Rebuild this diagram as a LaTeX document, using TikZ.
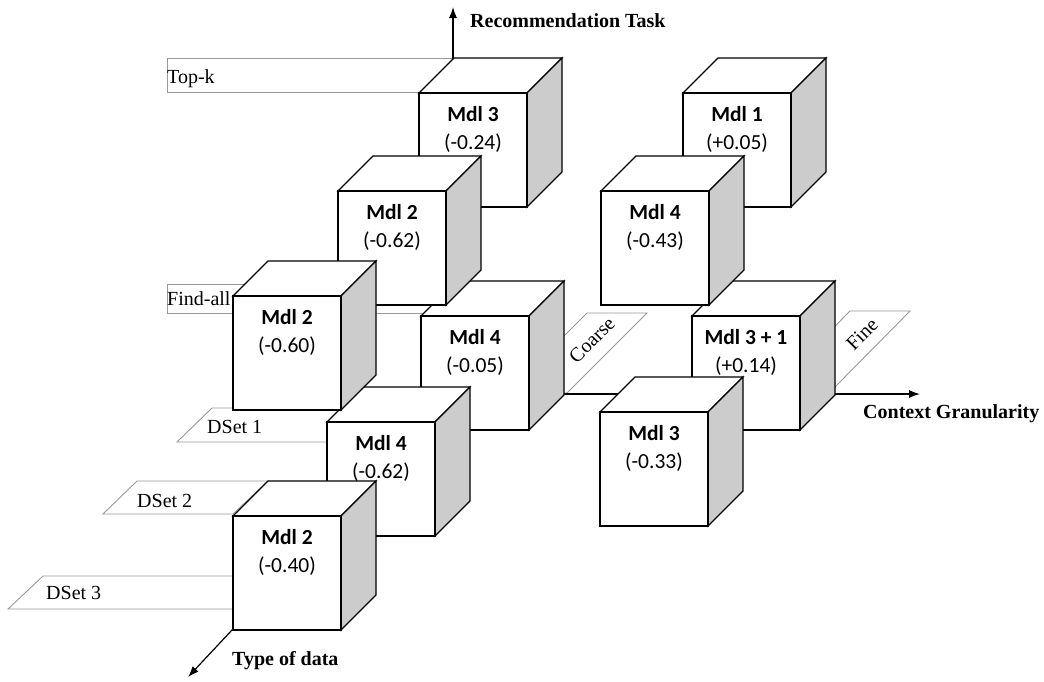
\documentclass[tikz,border=0pt]{standalone}
\usepackage{fontspec}
\setmainfont{Liberation Serif}
\newfontfamily\calfont{Carlito}
\usetikzlibrary{arrows.meta}
\tikzset{
  cubeedge/.style={draw=black,line width=1.2pt,line join=miter},
  frontface/.style={cubeedge,fill=white},
  topface/.style={cubeedge,fill=white},
  sideface/.style={cubeedge,fill=black!20},
  lbox/.style={draw=black!40,line width=0.9pt},
  lbl/.style={font=\fontsize{20}{24}\selectfont,inner sep=0pt,anchor=base west},
  axlbl/.style={font=\fontsize{20}{24}\selectfont\bfseries,inner sep=0pt,anchor=base west},
  rlbl/.style={font=\fontsize{20}{24}\selectfont,inner sep=0pt,rotate=45},
  axisline/.style={line width=1.2pt,-{Latex[length=11pt,width=8pt]}},
  mtitle/.style={font=\calfont\fontsize{21.5}{26}\selectfont\bfseries,inner sep=0pt,anchor=base},
  mval/.style={font=\calfont\fontsize{21.5}{26}\selectfont,inner sep=0pt,anchor=base},
}
\newcommand\mycube[5]{%
 \begin{scope}[shift={(#1,#2)}]
  \draw[topface] (0,0) -- (35,-35) -- (143,-35) -- (108,0) -- cycle;
  \draw[sideface] (108,0) -- (143,-35) -- (143,79) -- (108,114) -- cycle;
  \draw[frontface] (0,0) rectangle (108,114);
  \node[mtitle] (#3t) at (54,28) {#4};
  \node[mval] (#3v) at (54,56) {#5};
 \end{scope}}
\begin{document}
\begin{tikzpicture}[x=1pt,y=-1pt]
\useasboundingbox (0,0) rectangle (1044,681);
% label planes
\draw[lbox] (167,58) rectangle (453,92);
\draw[lbox] (167,284) rectangle (456,313);
\draw[lbox] (177,442) -- (212,408) -- (362,408) -- (327,442) -- cycle;
\draw[lbox] (103,514) -- (137,481) -- (268,481) -- (233,514) -- cycle;
\draw[lbox] (8,609) -- (43,576) -- (267,576) -- (233,609) -- cycle;
\draw[lbox] (587,313) -- (647,313) -- (567,393) -- (507,393) -- cycle;
\draw[lbox] (850,311) -- (910,311) -- (834,388) -- (774,388) -- cycle;
\node[lbl] (topk) at (167,83) {Top-k};
\node[lbl] (findall) at (167,305) {Find-all};
\node[lbl] (ds1) at (207,433) {DSet 1};
\node[lbl] (ds2) at (137,507) {DSet 2};
\node[lbl] (ds3) at (46,599) {DSet 3};
\node[rlbl] (coarse) at (592,340) {Coarse};
\node[rlbl] (fine) at (862,334) {Fine};
% axes
\coordinate (O) at (453,394);
\coordinate (ytip) at (453,7);
\coordinate (xtip) at (920,394);
\coordinate (ztip) at (188,677);
\draw[axisline] (O) -- (ytip);
\draw[axisline] (O) -- (xtip);
\draw[axisline] (O) -- (ztip);
\node[axlbl] (rt) at (470,27) {Recommendation Task};
\node[axlbl] (cg) at (863,418) {Context Granularity};
\node[axlbl] (td) at (232,665) {Type of data};
% cubes, back to front
\mycube{419}{93}{ca}{Mdl 3}{(-0.24)}
\mycube{683}{93}{cb}{Mdl 1}{(+0.05)}
\mycube{421}{316}{cc}{Mdl 4}{(-0.05)}
\mycube{692}{316}{cd}{Mdl 3 + 1}{(+0.14)}
\mycube{338}{191}{ce}{Mdl 2}{(-0.62)}
\mycube{601}{191}{cf}{Mdl 4}{(-0.43)}
\mycube{327}{422}{cg}{Mdl 4}{(-0.62)}
\mycube{600}{412}{ch}{Mdl 3}{(-0.33)}
\mycube{233}{296}{ci}{Mdl 2}{(-0.60)}
\mycube{233}{516}{cj}{Mdl 2}{(-0.40)}
\end{tikzpicture}
\end{document}
